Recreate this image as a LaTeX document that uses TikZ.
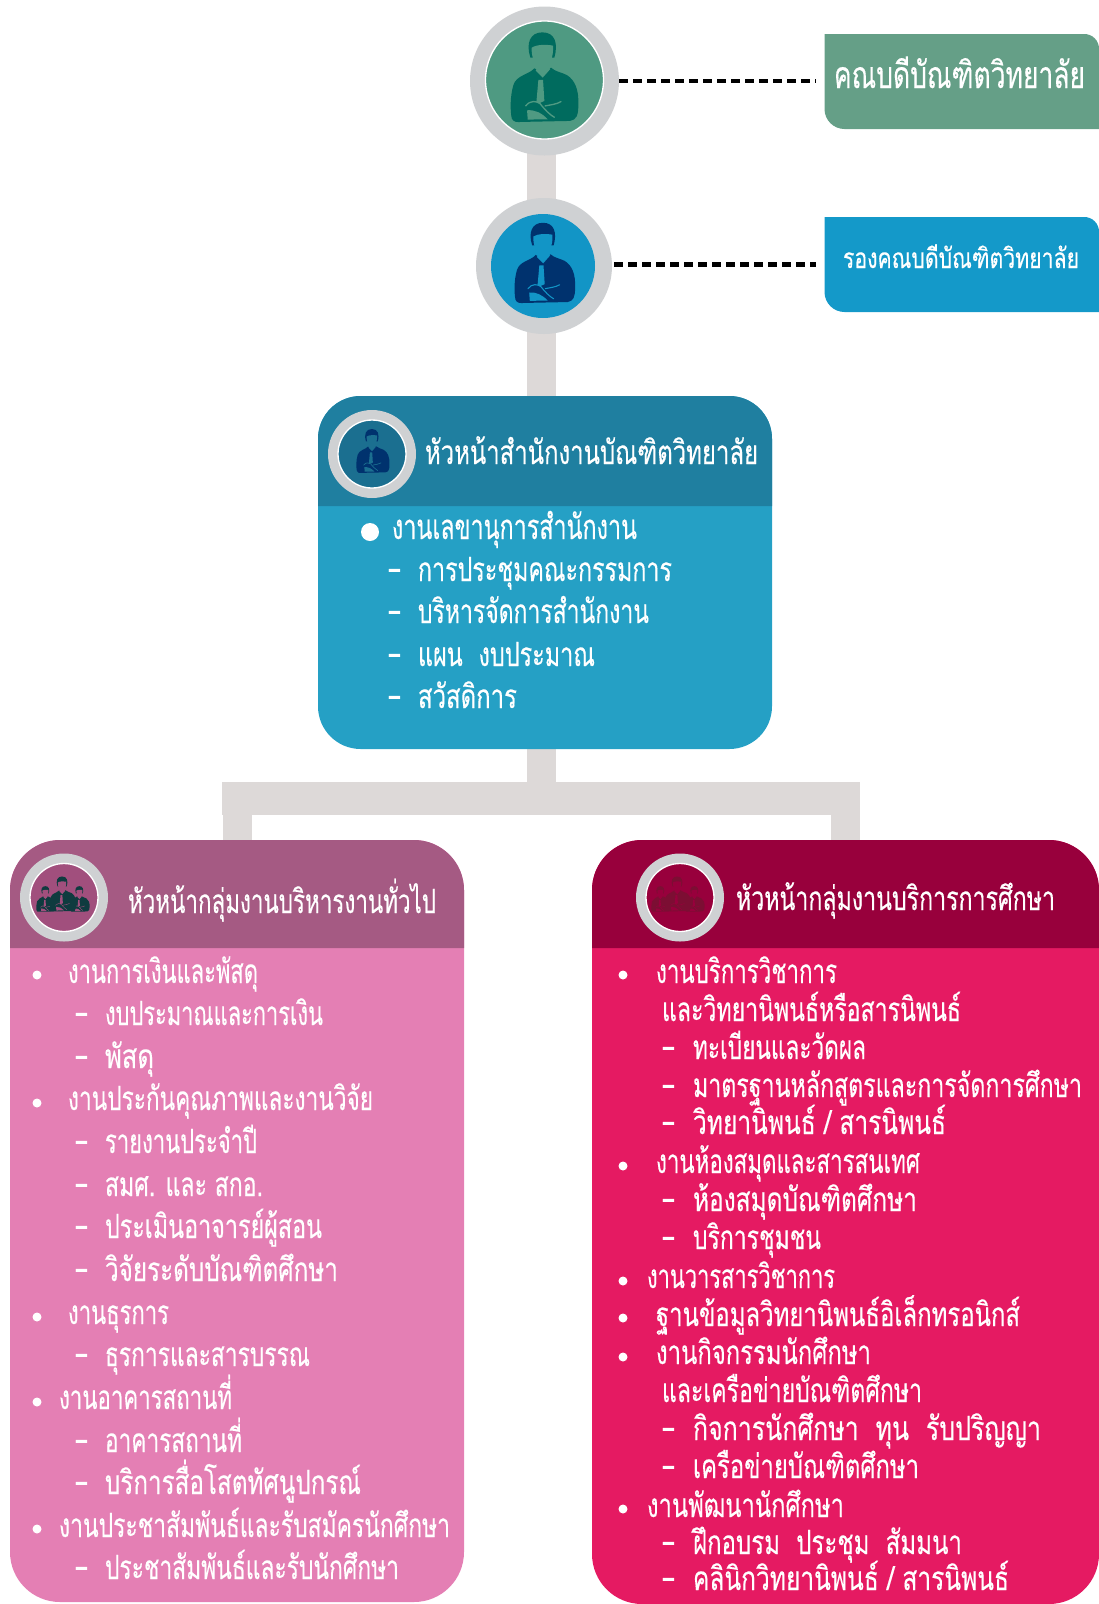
\documentclass[tikz,border=0pt]{standalone}
\usepackage{graphicx}
\usepackage{fontspec}
\newfontfamily\thaifont[Script=Thai,FakeBold=0.35]{Loma}
\usetikzlibrary{backgrounds}
\definecolor{ringgrey}{HTML}{CFD1D3}
\definecolor{connect}{HTML}{DDD9D8}
\definecolor{greenbox}{HTML}{659F87}
\definecolor{greenin}{HTML}{4F9A82}
\definecolor{greendark}{HTML}{006B5E}
\definecolor{bluebox}{HTML}{1499C9}
\definecolor{bluein}{HTML}{1295C6}
\definecolor{navy}{HTML}{00326E}
\definecolor{cyanhead}{HTML}{1F7FA0}
\definecolor{cyanbody}{HTML}{25A0C5}
\definecolor{cyanin}{HTML}{1B6F90}
\definecolor{mauvehead}{HTML}{A55A83}
\definecolor{pinkbody}{HTML}{E47FB4}
\definecolor{mauvein}{HTML}{A14F7D}
\definecolor{darkteal}{HTML}{0F3B3F}
\definecolor{winehead}{HTML}{98003C}
\definecolor{rosebody}{HTML}{E51A62}
\definecolor{winefig}{HTML}{7C0E33}
\tikzset{
  txt/.style={inner sep=0pt,outer sep=0pt,text=white,anchor=base west,yshift=-.75pt},
  conn/.style={draw=connect,line width=21.75pt,line cap=butt},
  connbar/.style={draw=connect,line width=24.75pt,line cap=butt},
  dots/.style={draw=black,line width=3.4pt,dash pattern=on 7pt off 3.5pt},
  ringnode/.style={circle,inner sep=0pt,outer sep=0pt,fill=ringgrey},
  innernode/.style={circle,inner sep=0pt,outer sep=0pt,draw=white,line width=1pt},
  boxnode/.style={rectangle,inner sep=0pt,outer sep=0pt},
  dotnode/.style={circle,fill=white,inner sep=0pt,outer sep=0pt},
  pics/person/.style n args={3}{code={
    \begin{scope}[shift={(-149,-157)}]
    % body
    \fill[#1] (118,130) .. controls (100,150) and (65,150) .. (55,180)
      .. controls (45,215) and (45,255) .. (50,280) .. controls (55,292) and (65,292) .. (80,291)
      -- (225,288) .. controls (245,285) and (250,270) .. (250,240)
      .. controls (252,195) and (240,165) .. (215,150) .. controls (200,142) and (180,140) .. (168,128)
      -- (143,145) -- cycle;
    % shirt and tie
    \fill[#2] (122,137) -- (143,158) -- (166,132) -- (150,118) -- (132,118) -- cycle;
    \fill[#2] (130,165) -- (144,165) -- (148,228) -- (132,235) -- (124,232) -- cycle;
    % lower shirt between arms
    \fill[#2] (96,256) .. controls (120,254) and (140,264) .. (158,283) -- (98,284) -- cycle;
    % arm folds
    \draw[#2,line width=#3,line cap=round] (92,243) .. controls (105,225) and (125,228) .. (135,236)
      .. controls (150,255) and (165,270) .. (178,277);
    \draw[#2,line width=#3,line cap=round] (150,243) .. controls (165,240) and (185,238) .. (198,230);
    % hair and face
    \fill[#1] (106,98) .. controls (92,55) and (105,22) .. (142,22)
      .. controls (180,22) and (190,55) .. (178,98) -- cycle;
    \fill[#2] (110,68) .. controls (125,58) and (155,58) .. (174,62)
      .. controls (176,95) and (165,128) .. (141,128) .. controls (120,128) and (108,95) .. (110,68) -- cycle;
    \end{scope}
  }},
  pics/people/.style n args={3}{code={
    \pic[scale=.095] at (-17,5) {person={#1}{#2}{#3}};
    \pic[scale=.095] at (17,5) {person={#1}{#2}{#3}};
    \pic[scale=.13] at (0,0) {person={#1}{#2}{#3}};
  }},
}
\newcommand\TX[6]{\node[txt] (#1) at (#2,#4) {\resizebox{\dimexpr(#3pt-#2pt)*3/4\relax}{\height}{\thaifont\fontsize{#5}{#5}\selectfont #6}};}
\newcommand\IT[6]{\node[txt] (#1) at (#2,#5) {\hbox{\makebox[\dimexpr(#3pt-#2pt)*3/4\relax][l]{\resizebox{8.25pt}{\height}{\thaifont\fontsize{25}{25}\selectfont –}}\resizebox{\dimexpr(#4pt-#3pt)*3/4\relax}{\height}{\thaifont\fontsize{25}{25}\selectfont #6}}};}
\newcommand\BU[3]{\node[dotnode,minimum size=6.75pt] (#1) at (#2,#3) {};}
\begin{document}
\begin{tikzpicture}[x=0.75pt,y=-0.75pt]
\useasboundingbox (0,0) rectangle (1099,1604);
\coordinate (j) at (541,798.5);
% boxes
\node[boxnode,minimum width=340.5pt,minimum height=264.75pt,rounded corners=32pt,fill=cyanbody] (cb) at (545,572.5) {};
\fill[cyanhead] (318,506) [rounded corners=32pt] -- (318,396) -- (772,396) [sharp corners] -- (772,506) -- cycle;
\node[boxnode,minimum width=340.5pt,minimum height=571.5pt,rounded corners=37.5pt,fill=pinkbody] (lb) at (237,1221) {};
\fill[mauvehead] (10,948) [rounded corners=37.5pt] -- (10,840) -- (464,840) [sharp corners] -- (464,948) -- cycle;
\node[boxnode,minimum width=380.25pt,minimum height=573pt,rounded corners=37.5pt,fill=rosebody] (rb) at (845.5,1222) {};
\fill[winehead] (592,948) [rounded corners=37.5pt] -- (592,840) -- (1099,840) [sharp corners] -- (1099,948) -- cycle;
\node[boxnode,minimum width=205.5pt,minimum height=71.25pt] (gb) at (962,81.5) {};
\fill[greenbox] (824.5,34) [rounded corners=11pt] -- (1099,34) [sharp corners] -- (1099,129) [rounded corners=15pt] -- (824.5,129) [sharp corners] -- cycle;
\node[boxnode,minimum width=205.5pt,minimum height=71.25pt] (bb) at (962,264.5) {};
\fill[bluebox] (824.5,217) [rounded corners=11pt] -- (1099,217) [sharp corners] -- (1099,312) [rounded corners=15pt] -- (824.5,312) [sharp corners] -- cycle;
% circles
\node[ringnode,minimum size=111.75pt] (c1) at (544.5,81) {};
\node[innernode,minimum size=88.5pt,fill=greenin] (c1i) at (544.5,80) {};
\node[ringnode,minimum size=102pt] (c2) at (544,266) {};
\node[innernode,minimum size=78pt,fill=bluein,draw=none] (c2i) at (543,266) {};
\node[ringnode,minimum size=66pt] (c3) at (372,454) {};
\node[innernode,minimum size=51pt,fill=cyanin] (c3i) at (372,454) {};
\node[ringnode,minimum size=66pt] (c4) at (64,897.5) {};
\node[innernode,minimum size=51pt,fill=mauvein] (c4i) at (64,897.5) {};
\node[ringnode,minimum size=66pt] (c5) at (680,897.5) {};
\node[innernode,minimum size=51pt,fill=winehead] (c5i) at (680,897.5) {};
% connectors
\begin{pgfonlayer}{background}
\draw[conn] (j |- c1) -- (j |- c2);
\draw[conn] (j |- c2) -- (j |- cb.north);
\draw[conn] (j |- cb.south) -- (j);
\draw[connbar] ([xshift=-10.9pt]lb.north |- j) -- ([xshift=10.9pt]rb.north |- j);
\draw[conn] (lb.north |- j) -- (lb.north);
\draw[conn] (rb.north |- j) -- (rb.north);
\end{pgfonlayer}
\draw[dots,shorten >=7pt] (c1.east) -- (c1 -| gb.west);
\draw[dots,shorten >=7pt,shorten <=1.5pt] ([yshift=1.1pt]c2.east) -- ([yshift=1.1pt]c2 -| bb.west);
% figures
\pic[scale=.333] at (544.7,77.3) {person={greendark}{greenin}{1pt}};
\pic[scale=.298] at (545,263) {person={navy}{bluein}{.8pt}};
\pic[scale=.163] at (373,451) {person={navy}{cyanin}{.5pt}};
\pic at (63,894) {people={darkteal}{mauvein}{.3pt}};
\pic at (678,894) {people={winefig}{winehead}{.3pt}};
% top labels
\TX{t1}{834}{1085}{87}{28}{คณบดีบัณฑิตวิทยาลัย}
\TX{t2}{843}{1079}{267}{21}{รองคณบดีบัณฑิตวิทยาลัย}
% centre box
\TX{t3}{425}{758}{463}{25}{หัวหน้าสำนักงานบัณฑิตวิทยาลัย}
\node[dotnode,minimum size=13.5pt] (d0) at (370,532) {};
\TX{a0}{392}{637}{538}{26}{งานเลขานุการสำนักงาน}
\IT{a1}{389}{418}{672}{580}{การประชุมคณะกรรมการ}
\IT{a2}{389}{418}{649}{622}{บริหารจัดการสำนักงาน}
\IT{a3}{389}{418}{595}{665}{แผน\ \ งบประมาณ}
\IT{a4}{389}{418}{517}{707}{สวัสดิการ}
% left box
\TX{t4}{128}{436}{912}{25}{หัวหน้ากลุ่มงานบริหารงานทั่วไป}
\BU{d1}{37}{975}
\TX{l1}{68}{258}{982}{25}{งานการเงินและพัสดุ}
\IT{l2}{76}{105}{323}{1024}{งบประมาณและการเงิน}
\IT{l3}{76}{105}{154}{1067}{พัสดุ}
\BU{d2}{37}{1103}
\TX{l4}{68}{373}{1109}{25}{งานประกันคุณภาพและงานวิจัย}
\IT{l5}{76}{105}{257}{1152}{รายงานประจำปี}
\IT{l6}{76}{105}{263}{1195}{สมศ. และ สกอ.}
\IT{l7}{76}{105}{322}{1237}{ประเมินอาจารย์ผู้สอน}
\IT{l8}{76}{105}{338}{1280}{วิจัยระดับบัณฑิตศึกษา}
\BU{d3}{37}{1317}
\TX{l9}{68}{169}{1323}{25}{งานธุรการ}
\IT{l10}{76}{105}{310}{1365}{ธุรการและสารบรรณ}
\BU{d4}{37}{1402}
\TX{l11}{59}{232}{1408}{25}{งานอาคารสถานที่}
\IT{l12}{76}{105}{242}{1451}{อาคารสถานที่}
\IT{l13}{76}{105}{361}{1493}{บริการสื่อโสตทัศนูปกรณ์}
\BU{d5}{37}{1529}
\TX{l14}{59}{450}{1536}{25}{งานประชาสัมพันธ์และรับสมัครนักศึกษา}
\IT{l15}{76}{105}{399}{1578}{ประชาสัมพันธ์และรับนักศึกษา}
% right box
\TX{t5}{736}{1055}{909}{25}{หัวหน้ากลุ่มงานบริการการศึกษา}
\BU{e1}{623}{975}
\TX{r1}{656}{837}{982}{25}{งานบริการวิชาการ}
\TX{r2}{662}{961}{1020}{25}{และวิทยานิพนธ์หรือสารนิพนธ์}
\IT{r3}{663}{693}{866}{1058}{ทะเบียนและวัดผล}
\IT{r4}{663}{693}{1082}{1096}{มาตรฐานหลักสูตรและการจัดการศึกษา}
\IT{r5}{663}{693}{946}{1133}{วิทยานิพนธ์ / สารนิพนธ์}
\BU{e2}{623}{1166}
\TX{r6}{656}{920}{1172}{25}{งานห้องสมุดและสารสนเทศ}
\IT{r7}{663}{693}{917}{1210}{ห้องสมุดบัณฑิตศึกษา}
\IT{r8}{663}{693}{821}{1248}{บริการชุมชน}
\BU{e3}{623}{1281}
\TX{r9}{647}{835}{1287}{25}{งานวารสารวิชาการ}
\BU{e4}{623}{1318}
\TX{r10}{656}{1020}{1325}{25}{ฐานข้อมูลวิทยานิพนธ์อิเล็กทรอนิกส์}
\BU{e5}{623}{1357}
\TX{r11}{656}{871}{1363}{25}{งานกิจกรรมนักศึกษา}
\TX{r12}{662}{922}{1401}{25}{และเครือข่ายบัณฑิตศึกษา}
\IT{r13}{663}{693}{1041}{1439}{กิจการนักศึกษา\ \ ทุน\ \ รับปริญญา}
\IT{r14}{663}{693}{919}{1477}{เครือข่ายบัณฑิตศึกษา}
\BU{e6}{623}{1509}
\TX{r15}{647}{844}{1516}{25}{งานพัฒนานักศึกษา}
\IT{r16}{663}{693}{962}{1553}{ฝึกอบรม\ \ ประชุม\ \ สัมมนา}
\IT{r17}{663}{693}{1009}{1589}{คลินิกวิทยานิพนธ์ / สารนิพนธ์}
\end{tikzpicture}
\end{document}
